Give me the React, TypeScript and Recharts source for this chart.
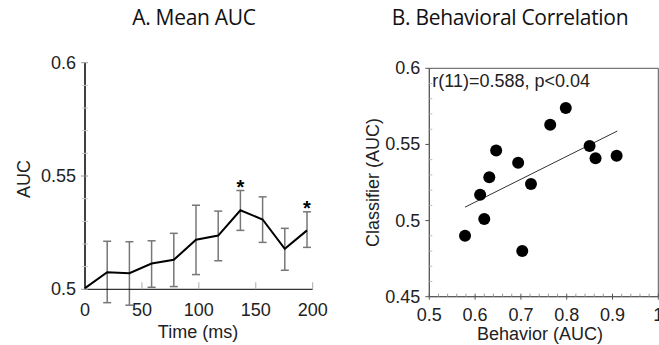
import {
  ComposedChart,
  ScatterChart,
  Line,
  ErrorBar,
  Scatter,
  XAxis,
  YAxis,
  ReferenceArea,
  ReferenceLine,
} from "recharts";

// A. Mean AUC over time
const times = [0, 19.5, 39, 58.5, 78, 97.5, 117, 136.5, 156, 175.5, 195];
const meanAuc = [0.5005, 0.5075, 0.5071, 0.5114, 0.513, 0.5219, 0.5237, 0.5349, 0.5308, 0.5179, 0.526];
const aucLower = [0.5005, 0.4941, 0.493, 0.5009, 0.5012, 0.5065, 0.5126, 0.526, 0.5207, 0.5084, 0.5185];
const aucUpper = [0.5005, 0.5212, 0.521, 0.5214, 0.5247, 0.5371, 0.5345, 0.5436, 0.5408, 0.5269, 0.5342];
const significant = [false, false, false, false, false, false, false, true, false, false, true];

const timeTicks = [0, 50, 100, 150, 200];
const aucTicks = [0.5, 0.51, 0.52, 0.53, 0.54, 0.55, 0.56, 0.57, 0.58, 0.59, 0.6];
const aucMajor = [0.5, 0.55, 0.6];

// B. Behavioral correlation
const behavior = [0.578, 0.611, 0.62, 0.631, 0.646, 0.694, 0.703, 0.722, 0.764, 0.798, 0.85, 0.863, 0.909];
const classifier = [0.49, 0.517, 0.501, 0.5285, 0.546, 0.538, 0.48, 0.524, 0.563, 0.574, 0.549, 0.541, 0.5425];
const fitX = [0.578, 0.9105];
const fitY = [0.5088, 0.5588];
const statText = "r(11)=0.588, p<0.04";

const behTicks = [
  0.5, 0.52, 0.54, 0.56, 0.58, 0.6, 0.62, 0.64, 0.66, 0.68, 0.7, 0.72, 0.74, 0.76, 0.78, 0.8,
  0.82, 0.84, 0.86, 0.88, 0.9, 0.92, 0.94, 0.96, 0.98, 1,
];
const behMajor = [0.5, 0.6, 0.7, 0.8, 0.9, 1];
const clsTicks = [0.45, 0.46, 0.47, 0.48, 0.49, 0.5, 0.51, 0.52, 0.53, 0.54, 0.55, 0.56, 0.57, 0.58, 0.59, 0.6];
const clsMajor = [0.45, 0.5, 0.55, 0.6];

const timeData = times.map((t, i) => ({
  t,
  auc: meanAuc[i],
  err: i === 0 ? null : [meanAuc[i] - aucLower[i], aucUpper[i] - meanAuc[i]],
}));
const starData = times
  .map((t, i) => ({ t, upper: aucUpper[i] }))
  .filter((_, i) => significant[i]);
const corrData = behavior.map((b, i) => ({ b, c: classifier[i] }));

const FONT = "'Liberation Sans', Arial, sans-serif";
const isMajor = (list: number[], v: number) => list.some((m) => Math.abs(m - v) < 1e-6);

const LeftYTick = ({ x, y, payload }: any) => {
  const major = isMajor(aucMajor, payload.value);
  return (
    <g>
      <line x1={x - (major ? 4 : 3)} x2={x + 3} y1={y} y2={y} stroke={major ? "#999" : "#ccc"} />
      {major && (
        <text x={x - 9} y={y + 6} textAnchor="end" fontSize={18} fontFamily={FONT} fill="#222">
          {payload.value}
        </text>
      )}
    </g>
  );
};

const LeftXTick = ({ x, y, payload }: any) => (
  <g>
    {payload.value !== 0 && <line x1={x} x2={x} y1={y} y2={y - 7} stroke="#aaa" />}
    <text x={x} y={y + 27} textAnchor="middle" fontSize={18} fontFamily={FONT} fill="#222">
      {payload.value}
    </text>
  </g>
);

const RightYTick = ({ x, y, payload }: any) => {
  const major = isMajor(clsMajor, payload.value);
  return (
    <g>
      {major ? (
        <line x1={x - 4} x2={x} y1={y} y2={y} stroke="#555" />
      ) : (
        <line x1={x} x2={x + 3} y1={y} y2={y} stroke="#bbb" />
      )}
      {major && (
        <text x={x - 9} y={y + 6} textAnchor="end" fontSize={18} fontFamily={FONT} fill="#222">
          {payload.value}
        </text>
      )}
    </g>
  );
};

const RightXTick = ({ x, y, payload }: any) => {
  const major = isMajor(behMajor, payload.value);
  return (
    <g>
      <line x1={x} x2={x} y1={y - 3} y2={y + (major ? 3 : 0)} stroke={major ? "#555" : "#999"} />
      {major && (
        <text x={x} y={y + 24} textAnchor="middle" fontSize={18} fontFamily={FONT} fill="#222">
          {payload.value}
        </text>
      )}
    </g>
  );
};

const Star = ({ cx, cy }: any) => (
  <text x={cx} y={cy + 3} textAnchor="middle" fontSize={20} fontWeight="bold" fontFamily={FONT} fill="#000">
    *
  </text>
);

const Dot = ({ cx, cy }: any) => <circle cx={cx} cy={cy} r={6} fill="#000" />;

const titleStyle: React.CSSProperties = {
  position: "absolute",
  top: 3,
  fontFamily: "'Open Sans', sans-serif",
  fontSize: 21,
  letterSpacing: -0.3,
  color: "#111",
  whiteSpace: "nowrap",
  transform: "translateX(-50%)",
};

const App = () => {
  return (
    <div style={{ position: "absolute", left: 0, top: 0, width: 659, height: 345, background: "#fff", overflow: "hidden" }}>
      <div style={{ ...titleStyle, left: 194 }}>A. Mean AUC</div>
      <div style={{ ...titleStyle, left: 510 }}>B. Behavioral Correlation</div>

      <div style={{ position: "absolute", left: 0, top: 0 }}>
        <ComposedChart width={330} height={345} data={timeData} margin={{ top: 62.7, right: 17.3, bottom: 0, left: 0 }}>
          <XAxis
            type="number"
            dataKey="t"
            domain={[0, 200]}
            ticks={timeTicks}
            interval={0}
            tickSize={0}
            tickMargin={0}
            tickLine={false}
            tick={<LeftXTick />}
            axisLine={{ stroke: "#000" }}
            height={55.7}
            label={({ viewBox }: any) => (
              <text x={198} y={viewBox.y + 49} textAnchor="middle" fontSize={18} fontFamily={FONT} fill="#222">
                Time (ms)
              </text>
            )}
          />
          <YAxis
            type="number"
            domain={[0.5, 0.6]}
            allowDataOverflow
            ticks={aucTicks}
            interval={0}
            tickSize={0}
            tickMargin={0}
            tickLine={false}
            tick={<LeftYTick />}
            axisLine={{ stroke: "#000", strokeWidth: 1.5 }}
            width={85}
            label={({ viewBox }: any) => {
              const cy = viewBox.y + viewBox.height / 2 + 3;
              return (
                <text
                  x={30}
                  y={cy}
                  transform={`rotate(-90, 30, ${cy})`}
                  textAnchor="middle"
                  fontSize={18}
                  fontFamily={FONT}
                  fill="#222"
                >
                  AUC
                </text>
              );
            }}
          />
          <Line
            type="linear"
            dataKey="auc"
            stroke="#000"
            strokeWidth={2}
            dot={false}
            isAnimationActive={false}
          >
            <ErrorBar dataKey="err" direction="y" width={4} stroke="#777" strokeWidth={1.5} />
          </Line>
          <Scatter data={starData} dataKey="upper" shape={<Star />} isAnimationActive={false} />
        </ComposedChart>
      </div>

      <div style={{ position: "absolute", left: 330, top: 0 }}>
        <ScatterChart width={329} height={345} margin={{ top: 68.3, right: 0.7, bottom: 0, left: 0 }}>
          <XAxis
            type="number"
            dataKey="b"
            domain={[0.5, 1]}
            ticks={behTicks}
            interval={0}
            tickSize={0}
            tickMargin={0}
            tickLine={false}
            tick={<RightXTick />}
            axisLine={{ stroke: "#555" }}
            height={48.3}
            label={({ viewBox }: any) => (
              <text x={210} y={viewBox.y + 43} textAnchor="middle" fontSize={18} fontFamily={FONT} fill="#222">
                Behavior (AUC)
              </text>
            )}
          />
          <YAxis
            type="number"
            dataKey="c"
            domain={[0.45, 0.6]}
            ticks={clsTicks}
            interval={0}
            tickSize={0}
            tickMargin={0}
            tickLine={false}
            tick={<RightYTick />}
            axisLine={{ stroke: "#555" }}
            width={99.3}
            label={({ viewBox }: any) => {
              const cy = viewBox.y + viewBox.height / 2;
              return (
                <text
                  x={49}
                  y={cy}
                  transform={`rotate(-90, 49, ${cy})`}
                  textAnchor="middle"
                  fontSize={18}
                  fontFamily={FONT}
                  fill="#222"
                >
                  Classifier (AUC)
                </text>
              );
            }}
          />
          <ReferenceArea
            x1={0.5}
            x2={1}
            y1={0.45}
            y2={0.6}
            fill="none"
            stroke="#555"
            fillOpacity={0}
            label={({ viewBox }: any) => (
              <text x={viewBox.x + 3} y={viewBox.y + 19} fontSize={18} fontFamily={FONT} fill="#222">
                {statText}
              </text>
            )}
          />
          <ReferenceLine
            segment={[
              { x: fitX[0], y: fitY[0] },
              { x: fitX[1], y: fitY[1] },
            ]}
            stroke="#333"
            strokeWidth={1}
          />
          <Scatter data={corrData} fill="#000" shape={<Dot />} isAnimationActive={false} />
        </ScatterChart>
      </div>
    </div>
  );
};

export default App;
